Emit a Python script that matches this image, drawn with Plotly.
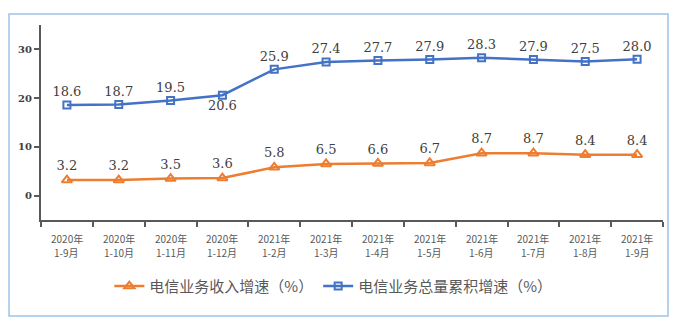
import plotly.graph_objects as go

years = ["2020年"] * 4 + ["2021年"] * 8
months = ["1-9月", "1-10月", "1-11月", "1-12月", "1-2月", "1-3月", "1-4月", "1-5月",
          "1-6月", "1-7月", "1-8月", "1-9月"]
categories = [f"{y} {m}" for y, m in zip(years, months)]
revenue_growth = [3.2, 3.2, 3.5, 3.6, 5.8, 6.5, 6.6, 6.7, 8.7, 8.7, 8.4, 8.4]
volume_growth = [18.6, 18.7, 19.5, 20.6, 25.9, 27.4, 27.7, 27.9, 28.3, 27.9, 27.5, 28.0]
series_names = ["电信业务收入增速（%）", "电信业务总量累积增速（%）"]
y_ticks = [0, 10, 20, 30]

blue = "#4472C4"
orange = "#ED7D31"
label_font = dict(family="DejaVu Serif, Liberation Serif, serif", size=13, color="#404040")
tick_font = dict(family="Noto Sans CJK SC", size=10, color="#595959")

vol_pos = ["top center"] * len(volume_growth)
vol_pos[3] = "bottom center"

fig = go.Figure()
fig.add_trace(go.Scatter(
    x=categories, y=revenue_growth, name=series_names[0], mode="lines+markers+text",
    line=dict(color=orange, width=2.5),
    marker=dict(symbol="triangle-up-open", size=9, color=orange, line=dict(width=2, color=orange)),
    text=[f"{v:.1f}" for v in revenue_growth], textposition="top center",
    textfont=label_font, cliponaxis=False,
))
fig.add_trace(go.Scatter(
    x=categories, y=volume_growth, name=series_names[1], mode="lines+markers+text",
    line=dict(color=blue, width=2.5),
    marker=dict(symbol="square-open", size=7, color=blue, line=dict(width=2, color=blue)),
    text=[f"{v:.1f}" for v in volume_growth], textposition=vol_pos,
    textfont=label_font, cliponaxis=False,
))

annotations = []
for c, y, m in zip(categories, years, months):
    annotations.append(dict(x=c, xref="x", y=-0.097, yref="paper", text=y, showarrow=False,
                            font=tick_font, xanchor="center", yanchor="middle"))
    annotations.append(dict(x=c, xref="x", y=-0.169, yref="paper", text=m, showarrow=False,
                            font=tick_font, xanchor="center", yanchor="middle"))

fig.update_layout(
    width=684, height=321,
    margin=dict(l=41, r=21, t=25, b=101, autoexpand=False),
    paper_bgcolor="white", plot_bgcolor="white",
    showlegend=True,
    legend=dict(orientation="h", x=0.47, xanchor="center", y=-0.34, yanchor="middle",
                font=dict(family="Noto Sans CJK SC", size=15, color="#595959"),
                itemwidth=30, tracegroupgap=0),
    xaxis=dict(type="category", tickson="boundaries", ticks="outside", ticklen=5,
               range=[-0.5, 11.5], automargin=False, showticklabels=False,
               tickcolor="#595959", tickwidth=1.5,
               showline=True, linecolor="#595959", linewidth=2, showgrid=False),
    yaxis=dict(range=[-5, 35], tickvals=y_ticks, ticks="outside", ticklen=5, automargin=False,
               tickcolor="#595959", tickwidth=1.5, showline=True, linecolor="#595959",
               linewidth=2, showgrid=False, zeroline=False,
               tickfont=dict(family="DejaVu Serif", size=10, color="#404040", weight="bold")),
    annotations=annotations,
    shapes=[dict(type="rect", xref="paper", yref="paper", x0=-0.0514, x1=1.008,
                 y0=-0.492, y1=1.056, line=dict(color="#9DC3E6", width=1.5))],
)

fig.write_html("out.html")
